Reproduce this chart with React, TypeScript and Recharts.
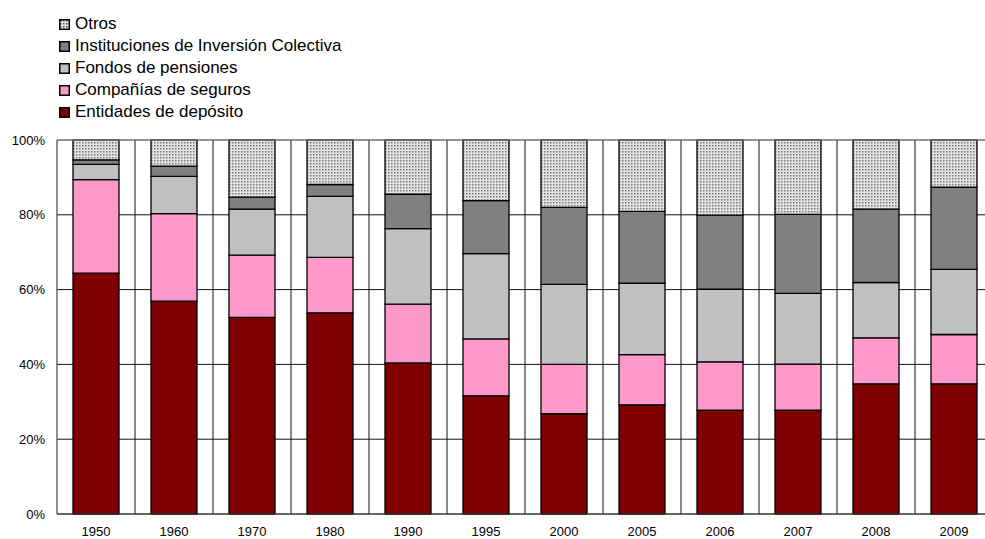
import { Bar, BarChart, CartesianGrid, ReferenceLine, XAxis, YAxis } from 'recharts'

const YEARS = ['1950', '1960', '1970', '1980', '1990', '1995', '2000', '2005', '2006', '2007', '2008', '2009']

// shares of financial assets by holder, in % of total
const ENTIDADES = [64.4, 56.9, 52.6, 53.8, 40.4, 31.6, 26.8, 29.2, 27.8, 27.8, 34.8, 34.8]
const COMPANIAS = [25.0, 23.4, 16.6, 14.8, 15.7, 15.2, 13.2, 13.4, 12.9, 12.3, 12.3, 13.2]
const FONDOS = [4.1, 10.0, 12.3, 16.3, 20.2, 22.8, 21.4, 19.1, 19.4, 18.9, 14.8, 17.4]
const IIC = [1.2, 2.7, 3.2, 3.2, 9.2, 14.2, 20.6, 19.2, 19.8, 21.1, 19.6, 22.0]
const OTROS = [5.3, 7.0, 15.3, 11.9, 14.5, 16.2, 18.0, 19.1, 20.1, 19.9, 18.5, 12.6]

const Y_TICKS = [0, 20, 40, 60, 80, 100]

const SERIES = [
  { key: 'entidades', name: 'Entidades de depósito', fill: '#800000' },
  { key: 'companias', name: 'Compañías de seguros', fill: '#ff99cc' },
  { key: 'fondos', name: 'Fondos de pensiones', fill: '#c0c0c0' },
  { key: 'iic', name: 'Instituciones de Inversión Colectiva', fill: '#808080' },
  { key: 'otros', name: 'Otros', fill: 'url(#dots)' },
]

const data = YEARS.map((year, i) => ({
  year,
  entidades: ENTIDADES[i],
  companias: COMPANIAS[i],
  fondos: FONDOS[i],
  iic: IIC[i],
  otros: OTROS[i],
}))

const FONT = '"Liberation Sans", Arial, sans-serif'

function DotsPattern() {
  return (
    <pattern id="dots" width={3} height={3} patternUnits="userSpaceOnUse">
      <rect width={3} height={3} fill="#e2e2e2" />
      <rect x={1} y={1} width={1.5} height={1.5} fill="#7a7a7a" />
    </pattern>
  )
}

export default function App() {
  return (
    <div
      style={{
        position: 'absolute',
        left: 0,
        top: 0,
        width: 985,
        height: 539,
        overflow: 'hidden',
        background: '#fff',
        fontFamily: FONT,
      }}
    >
      <svg width={0} height={0} style={{ position: 'absolute' }}>
        <defs>
          <pattern id="dotsLegend" width={3} height={3} patternUnits="userSpaceOnUse">
            <rect width={3} height={3} fill="#eee" />
            <rect x={1} y={1} width={1.5} height={1.5} fill="#444" />
          </pattern>
        </defs>
      </svg>

      {/* legend, top series first */}
      <div style={{ position: 'absolute', left: 59, top: 13 }}>
        {[...SERIES].reverse().map((s) => (
          <div key={s.key} style={{ display: 'flex', alignItems: 'center', height: 22 }}>
            <svg width={11} height={11} style={{ marginRight: 5 }}>
              <rect
                x={0.75}
                y={0.75}
                width={9.5}
                height={9.5}
                fill={s.key === 'otros' ? 'url(#dotsLegend)' : s.fill}
                stroke="#000"
                strokeWidth={1.5}
              />
            </svg>
            <span style={{ fontSize: 17, color: '#000', whiteSpace: 'nowrap' }}>{s.name}</span>
          </div>
        ))}
      </div>

      <BarChart
        width={1000}
        height={539}
        data={data}
        margin={{ top: 140, right: 7, bottom: 0, left: 0 }}
        barSize={46}
      >
        <defs>
          <DotsPattern />
        </defs>
        <CartesianGrid
          stroke="#111"
          strokeWidth={1}
          verticalCoordinatesGenerator={({ offset }: any) =>
            YEARS.map((_, i) => offset.left + (offset.width * (i + 1)) / YEARS.length)
          }
        />
        <ReferenceLine y={100} stroke="#a0a0a0" strokeWidth={1.2} />
        <XAxis
          dataKey="year"
          height={25}
          tickLine={false}
          tickSize={0}
          tickMargin={13}
          axisLine={{ stroke: '#444', strokeWidth: 1.2 }}
          tick={{ fill: '#000', fontSize: 13, fontFamily: FONT }}
          interval={0}
        />
        <YAxis
          width={57}
          domain={[0, 100]}
          ticks={Y_TICKS}
          tickFormatter={(v: number) => `${v}%`}
          tickLine={false}
          tickSize={0}
          tickMargin={12}
          axisLine={{ stroke: '#444', strokeWidth: 1.2 }}
          tick={{ fill: '#000', fontSize: 13, fontFamily: FONT }}
        />
        {SERIES.map((s) => (
          <Bar
            key={s.key}
            dataKey={s.key}
            name={s.name}
            stackId="total"
            fill={s.fill}
            stroke="#000"
            strokeWidth={1.3}
            isAnimationActive={false}
          />
        ))}
      </BarChart>
    </div>
  )
}
